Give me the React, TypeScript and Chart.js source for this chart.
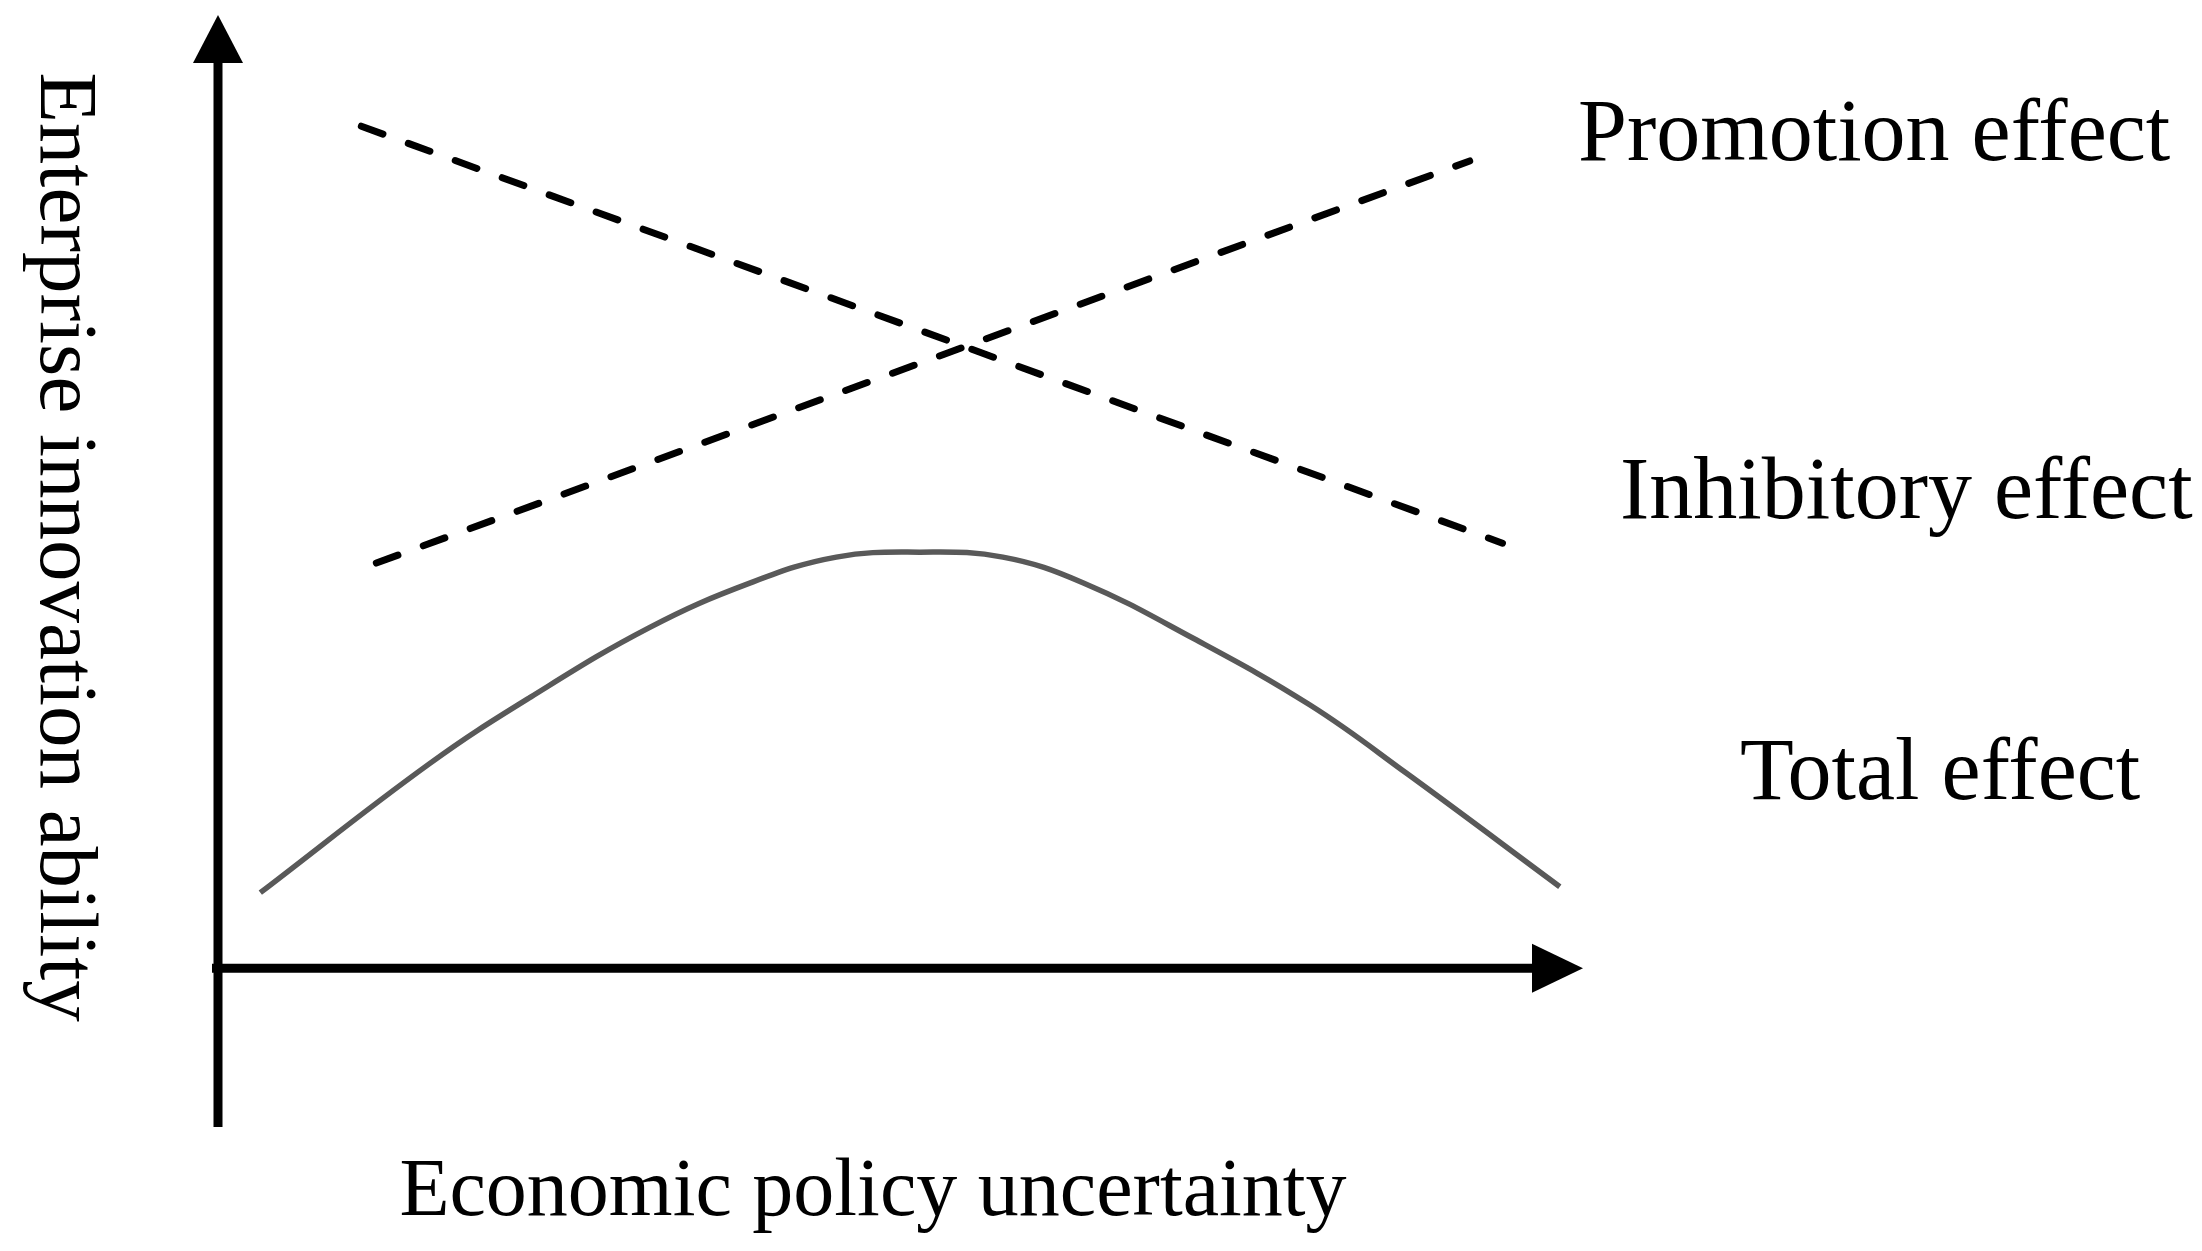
import React, { useEffect, useRef } from "react";
import { Chart, registerables } from "chart.js";

Chart.register(...registerables);

// Series names (labels shown at the right-hand side)
const seriesNames = ["Promotion effect", "Inhibitory effect", "Total effect"];

// Axis titles
const xAxisTitle = "Economic policy uncertainty";
const yAxisTitle = "Enterprise innovation ability";

// Promotion effect (rising dashed line)
const promotionX = [1.16, 9.17];
const promotionY = [4.08, 8.13];

// Inhibitory effect (falling dashed line)
const inhibitoryX = [1.05, 9.41];
const inhibitoryY = [8.48, 4.28];

// Total effect (inverted-U curve)
const totalX = [0.31, 1.55, 2.29, 3.16, 3.9, 4.53, 5.14, 5.75, 6.34, 7.12, 8.0, 8.71, 9.83];
const totalY = [0.76, 2.06, 2.73, 3.43, 3.88, 4.14, 4.19, 4.14, 3.88, 3.34, 2.65, 1.96, 0.82];

const toPoints = (xs: number[], ys: number[]) => xs.map((x, i) => ({ x, y: ys[i] }));

const FONT_LABEL = "88px 'Liberation Serif', 'Times New Roman', serif";
const FONT_XTITLE = "82px 'Liberation Serif', 'Times New Roman', serif";
const FONT_YTITLE = "83px 'Liberation Serif', 'Times New Roman', serif";

const decorPlugin = {
  id: "decor",
  afterDatasetsDraw(chart: any) {
    const { ctx, chartArea, scales } = chart;
    const x0 = scales.x.getPixelForValue(0);
    const y0 = scales.y.getPixelForValue(0);
    const top = chartArea.top;
    const bottom = chartArea.bottom;
    const right = chartArea.right;
    ctx.save();
    ctx.fillStyle = "#000";
    ctx.strokeStyle = "#000";
    ctx.lineWidth = 9;
    ctx.lineCap = "butt";
    // y axis line
    ctx.beginPath();
    ctx.moveTo(x0, bottom);
    ctx.lineTo(x0, top + 46);
    ctx.stroke();
    // y arrow head
    ctx.beginPath();
    ctx.moveTo(x0, top);
    ctx.lineTo(x0 - 25, top + 48);
    ctx.lineTo(x0 + 25, top + 48);
    ctx.closePath();
    ctx.fill();
    // x axis line
    ctx.beginPath();
    ctx.moveTo(x0 - 6, y0);
    ctx.lineTo(right - 49, y0);
    ctx.stroke();
    // x arrow head
    ctx.beginPath();
    ctx.moveTo(right, y0);
    ctx.lineTo(right - 51, y0 - 24.5);
    ctx.lineTo(right - 51, y0 + 24.5);
    ctx.closePath();
    ctx.fill();

    // Series labels
    ctx.font = FONT_LABEL;
    ctx.textBaseline = "alphabetic";
    ctx.textAlign = "left";
    const labelPos = [
      [1578, 160],
      [1620, 518],
      [1740, 799],
    ];
    seriesNames.forEach((name, i) => {
      ctx.fillText(name, labelPos[i][0], labelPos[i][1]);
    });

    // X axis title
    ctx.font = FONT_XTITLE;
    ctx.textAlign = "center";
    ctx.fillText(xAxisTitle, 873, 1215);

    // Y axis title (rotated clockwise, reads top to bottom)
    ctx.font = FONT_YTITLE;
    ctx.save();
    ctx.translate(41, 547);
    ctx.rotate(Math.PI / 2);
    ctx.textAlign = "center";
    ctx.fillText(yAxisTitle, 0, 0);
    ctx.restore();

    ctx.restore();
  },
};

export default function App() {
  const canvasRef = useRef<HTMLCanvasElement | null>(null);

  useEffect(() => {
    if (!canvasRef.current) return;
    const chart = new Chart(canvasRef.current, {
      type: "line",
      data: {
        datasets: [
          {
            label: seriesNames[0],
            data: toPoints(promotionX, promotionY),
            borderColor: "#000",
            borderWidth: 7,
            borderDash: [23, 27],
            borderCapStyle: "round",
            pointRadius: 0,
            fill: false,
            tension: 0,
          },
          {
            label: seriesNames[1],
            data: toPoints(inhibitoryX, inhibitoryY),
            borderColor: "#000",
            borderWidth: 7,
            borderDash: [23, 27],
            borderCapStyle: "round",
            pointRadius: 0,
            fill: false,
            tension: 0,
          },
          {
            label: seriesNames[2],
            data: toPoints(totalX, totalY),
            borderColor: "#595959",
            borderWidth: 5.5,
            pointRadius: 0,
            fill: false,
            tension: 0.4,
          },
        ],
      },
      options: {
        animation: false,
        responsive: true,
        maintainAspectRatio: false,
        layout: { padding: { left: 218, right: 619, top: 15, bottom: 124 } },
        plugins: {
          legend: { display: false },
          tooltip: { enabled: false },
        },
        scales: {
          x: { type: "linear", min: 0, max: 10, display: false },
          y: { type: "linear", min: -1.6, max: 9.6, display: false },
        },
      },
      plugins: [decorPlugin],
    } as any);
    return () => chart.destroy();
  }, []);

  return (
    <div style={{ position: "fixed", left: 0, top: 0, width: 2202, height: 1251, background: "#fff" }}>
      <canvas ref={canvasRef} />
    </div>
  );
}
